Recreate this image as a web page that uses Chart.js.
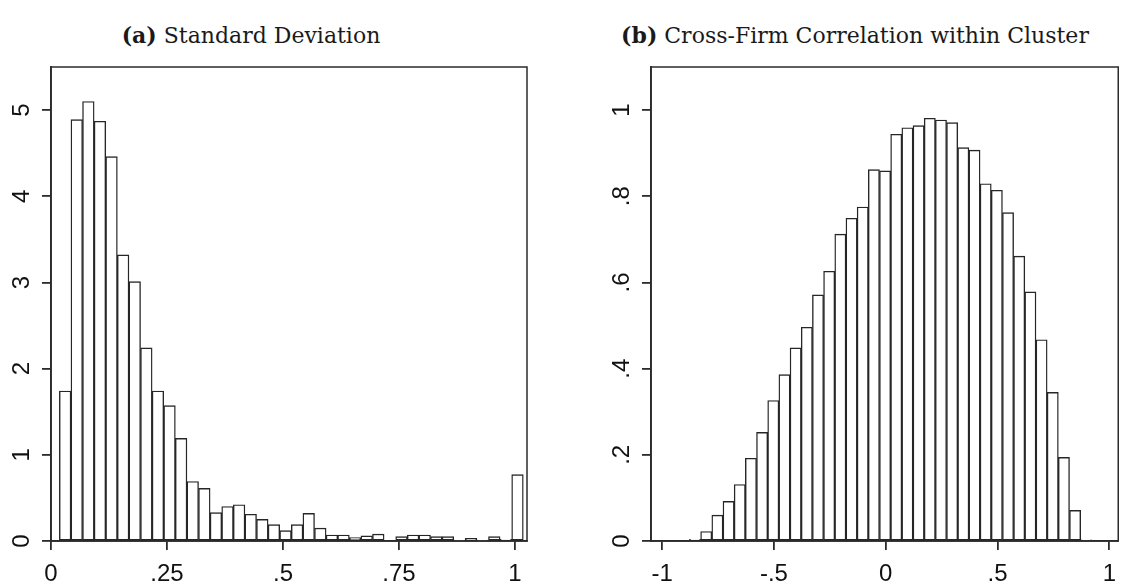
<!DOCTYPE html>
<html lang="en">
<head>
<meta charset="UTF-8">
<title>Standard Deviation and Cross-Firm Correlation</title>
<style>
    body {
        margin: 0;
        background: #fff;
        width: 1126px;
        height: 586px;
        position: relative;
        overflow: hidden;
    }
    .title {
        position: absolute;
        top: 22px;
        font-family: "DejaVu Serif", serif;
        font-size: 22px;
        line-height: 26px;
        color: #1a1a1a;
        white-space: nowrap;
        transform: translateX(-50%);
    }
    #titleA { left: 251px; }
    #titleB { left: 855px; }
    .box { position: absolute; top: 50px; height: 536px; }
    #boxA { left: 0; width: 545px; }
    #boxB { left: 560px; width: 566px; }
</style>
</head>
<body>
<div class="title" id="titleA"><b>(a)</b> Standard Deviation</div>
<div class="title" id="titleB"><b>(b)</b> Cross-Firm Correlation within Cluster</div>
<div class="box" id="boxA"><canvas id="chartA"></canvas></div>
<div class="box" id="boxB"><canvas id="chartB"></canvas></div>

<script src="https://cdn.jsdelivr.net/npm/chart.js"></script>
<script>
// (a) standard deviation histogram: 40 bins of width .025
const sdBinStart = 0.018;
const sdBinWidth = 0.025;
const sdDensity = [
    1.74, 4.89, 5.10, 4.87, 4.46, 3.32, 3.01, 2.24, 1.74, 1.57,
    1.19, 0.69, 0.61, 0.33, 0.40, 0.42, 0.31, 0.25, 0.19, 0.12,
    0.19, 0.32, 0.15, 0.07, 0.07, 0.04, 0.06, 0.08, 0.00, 0.05,
    0.07, 0.07, 0.05, 0.05, 0.01, 0.03, 0.01, 0.05, 0.02, 0.77
];
const sdXTicks = [0, 0.25, 0.5, 0.75, 1];
const sdYTicks = [0, 1, 2, 3, 4, 5];

// (b) cross-firm correlation histogram: 36 bins of width .05
const corrBinStart = -0.878;
const corrBinWidth = 0.05;
const corrDensity = [
    0.004, 0.022, 0.060, 0.092, 0.131, 0.192, 0.252, 0.326, 0.386, 0.448,
    0.496, 0.571, 0.626, 0.712, 0.749, 0.775, 0.862, 0.859, 0.944, 0.959,
    0.964, 0.981, 0.977, 0.971, 0.913, 0.907, 0.829, 0.814, 0.762, 0.661,
    0.578, 0.467, 0.345, 0.194, 0.071, 0.003
];
const corrXTicks = [-1, -0.5, 0, 0.5, 1];
const corrYTicks = [0, 0.2, 0.4, 0.6, 0.8, 1];

const INK = '#111';
const LINE = '#2b2b2b';
const TICK_FONT = { family: '"Liberation Sans", Arial, sans-serif', size: 24 };

// stata style labels: .25 instead of 0.25
function fmt(v) {
    if (v === 0) return '0';
    return String(+v.toFixed(2)).replace(/^(-?)0\./, '$1.');
}

// box round the plot region plus rotated y labels
const stataFrame = {
    id: 'stataFrame',
    afterDraw(chart) {
        const ctx = chart.ctx;
        const a = chart.chartArea;
        const y = chart.scales.y;
        ctx.save();
        ctx.strokeStyle = LINE;
        ctx.lineWidth = 1.5;
        ctx.strokeRect(a.left, a.top, a.right - a.left, a.bottom - a.top);
        ctx.fillStyle = INK;
        ctx.font = TICK_FONT.size + 'px ' + TICK_FONT.family;
        ctx.textAlign = 'center';
        ctx.textBaseline = 'middle';
        y.ticks.forEach(t => {
            ctx.save();
            ctx.translate(a.left - 29, y.getPixelForValue(t.value));
            ctx.rotate(-Math.PI / 2);
            ctx.fillText(fmt(t.value), 0, 0);
            ctx.restore();
        });
        ctx.restore();
    }
};

function histogram(canvasId, binStart, binWidth, density, xMin, xMax, xTicks, yMax, yTicks, padding) {
    const points = density.map((d, i) => ({ x: binStart + (i + 0.5) * binWidth, y: d }));
    const axisGrid = {
        display: true,
        drawOnChartArea: false,
        drawTicks: true,
        tickLength: 9,
        color: LINE,
        lineWidth: 1.8,
        offset: false
    };
    return new Chart(document.getElementById(canvasId), {
        type: 'bar',
        data: {
            datasets: [{
                data: points,
                backgroundColor: '#fff',
                borderColor: '#262626',
                borderWidth: 1.4,
                borderSkipped: false,
                barPercentage: 1,
                categoryPercentage: 1
            }]
        },
        options: {
            responsive: true,
            maintainAspectRatio: false,
            animation: false,
            layout: { padding: padding },
            plugins: { legend: { display: false }, tooltip: { enabled: false } },
            scales: {
                x: {
                    type: 'linear',
                    min: xMin,
                    max: xMax,
                    offset: false,
                    grid: axisGrid,
                    border: { display: true, color: LINE, width: 1.8 },
                    afterBuildTicks: s => { s.ticks = xTicks.map(v => ({ value: v })); },
                    afterFit: s => { s.height = 45; },
                    ticks: {
                        font: TICK_FONT,
                        color: INK,
                        padding: 10,
                        maxRotation: 0,
                        autoSkip: false,
                        callback: v => fmt(v)
                    }
                },
                y: {
                    min: 0,
                    max: yMax,
                    grid: axisGrid,
                    border: { display: true, color: LINE, width: 1.8 },
                    afterBuildTicks: s => { s.ticks = yTicks.map(v => ({ value: v })); },
                    afterFit: s => { s.width = 51; },
                    ticks: { display: false }
                }
            }
        },
        plugins: [stataFrame]
    });
}

histogram('chartA', sdBinStart, sdBinWidth, sdDensity, 0, 1.026, sdXTicks, 5.5, sdYTicks,
    { top: 17, right: 18, left: 0, bottom: 0 });
histogram('chartB', corrBinStart, corrBinWidth, corrDensity, -1.05, 1.04, corrXTicks, 1.1, corrYTicks,
    { top: 17, right: 1, left: 40, bottom: 0 });
</script>
</body>
</html>
